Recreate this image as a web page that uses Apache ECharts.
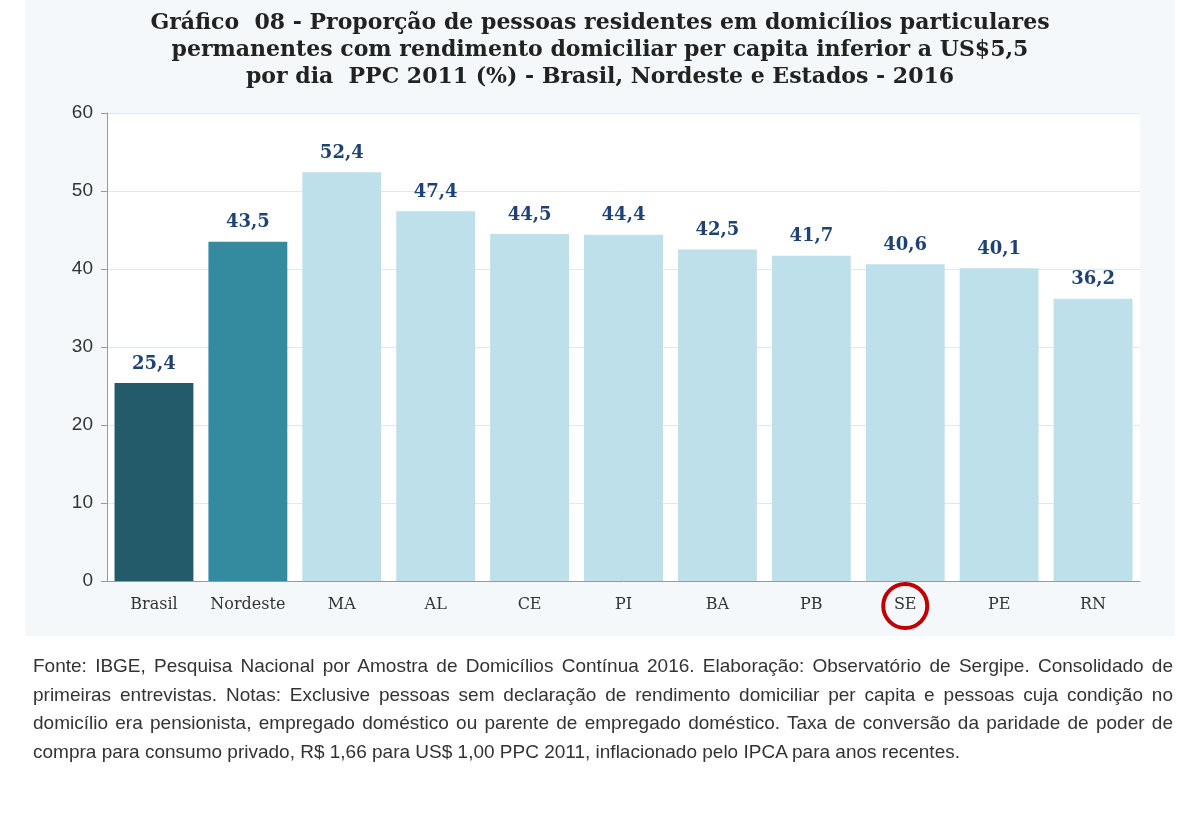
<!DOCTYPE html><html><head><meta charset="utf-8">
<script src="https://cdn.jsdelivr.net/npm/echarts@6/dist/echarts.min.js"></script>
<style>body{margin:0;background:#fff}#c{width:1200px;height:832px;position:absolute;left:0;top:0}
#n{position:absolute;left:33px;top:652px;width:1140px;font-family:'Liberation Sans Narrow','Liberation Sans',sans-serif;font-size:19px;line-height:28.5px;color:#333;text-align:justify}</style></head><body>
<div id="c"></div>
<div id="n">Fonte: IBGE, Pesquisa Nacional por Amostra de Domicílios Contínua 2016. Elaboração: Observatório de Sergipe. Consolidado de primeiras entrevistas. Notas: Exclusive pessoas sem declaração de rendimento domiciliar per capita e pessoas cuja condição no domicílio era pensionista, empregado doméstico ou parente de empregado doméstico. Taxa de conversão da paridade de poder de compra para consumo privado, R$ 1,66 para US$ 1,00 PPC 2011, inflacionado pelo IPCA para anos recentes.</div>
<script>
const categories=['Brasil','Nordeste','MA','AL','CE','PI','BA','PB','SE','PE','RN'];
const values=[25.4,43.5,52.4,47.4,44.5,44.4,42.5,41.7,40.6,40.1,36.2];
const colors=['#245b6b','#348a9f','#bde0ea','#bde0ea','#bde0ea','#bde0ea','#bde0ea','#bde0ea','#bde0ea','#bde0ea','#bde0ea'];
const ch=echarts.init(document.getElementById('c'));
ch.setOption({
 animation:false,
 title:{text:'Gráfico  08 - Proporção de pessoas residentes em domicílios particulares\npermanentes com rendimento domiciliar per capita inferior a US$5,5\npor dia  PPC 2011 (%) - Brasil, Nordeste e Estados - 2016',left:'center',top:5,
  textStyle:{fontFamily:'DejaVu Serif',fontWeight:'bold',fontSize:22,lineHeight:27,color:'#222'}},
 graphic:[{type:'rect',z:-10,shape:{x:25,y:0,width:1150,height:636},style:{fill:'#f4f8fa'}},
  {type:'rect',z:-9,shape:{x:107,y:113,width:1033,height:468},style:{fill:'#fff'}}],
 grid:{left:107,right:60,top:113,bottom:251},
 xAxis:{type:'category',data:categories,axisTick:{show:false},axisLine:{lineStyle:{color:'#999'}},
  axisLabel:{interval:0,fontFamily:'DejaVu Serif',fontSize:16,color:'#333',margin:16}},
 yAxis:{type:'value',min:0,max:60,interval:10,axisLine:{show:true,lineStyle:{color:'#999'}},axisTick:{show:true,length:6,lineStyle:{color:'#999'}},
  splitLine:{lineStyle:{color:'#dcebf2'}},axisLabel:{fontFamily:'Liberation Sans',fontSize:19,color:'#333',margin:14}},
 series:[{type:'bar',barCategoryGap:'16%',data:values.map((v,i)=>({value:v,itemStyle:{color:colors[i]}})),
  label:{show:true,position:'top',distance:10,formatter:p=>String(p.value).replace('.',','),fontFamily:'DejaVu Serif',fontWeight:'bold',fontSize:18,color:'#1f4275'}}]
});
const px=ch.convertToPixel({xAxisIndex:0,yAxisIndex:0},['SE',0]);
ch.setOption({graphic:[{},{},{type:'circle',shape:{cx:px[0],cy:px[1]+25,r:22},style:{fill:'none',stroke:'#c00000',lineWidth:4}}]});
</script></body></html>
